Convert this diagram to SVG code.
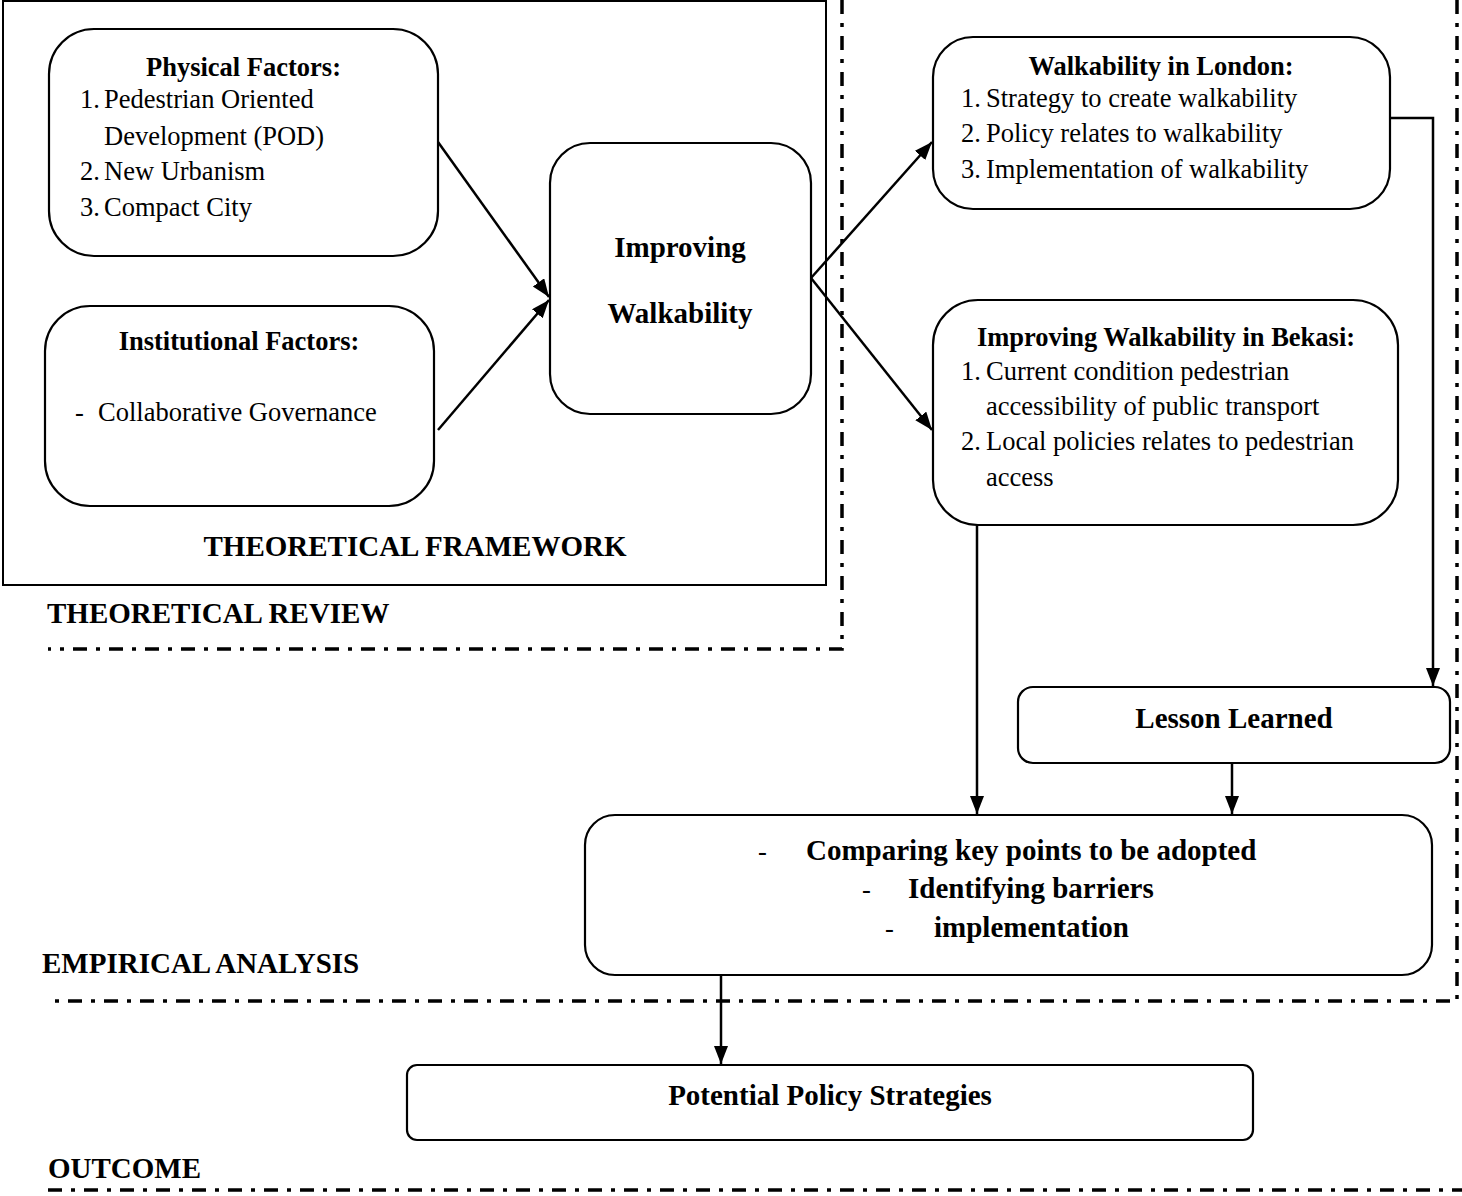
<svg xmlns="http://www.w3.org/2000/svg" width="1462" height="1196" viewBox="0 0 1462 1196">
<style>
  .box{fill:#fff;stroke:#000;stroke-width:2.2}
  .frame{fill:none;stroke:#000;stroke-width:2}
  .dd{fill:none;stroke:#000;stroke-width:3.5;stroke-dasharray:14 9 4 9}
  .conn{fill:none;stroke:#000;stroke-width:2.5}
  .t{font-family:"Liberation Serif","Times New Roman",serif;font-size:26.5px;fill:#000}
  .b{font-weight:bold}
  .h{font-family:"Liberation Serif","Times New Roman",serif;font-size:29px;font-weight:bold;fill:#000}
  .c{text-anchor:middle}
</style>
<defs>
  <marker id="arr" markerUnits="userSpaceOnUse" markerWidth="20" markerHeight="16" refX="18" refY="7" orient="auto">
    <path d="M0,0 L18,7 L0,14 z" fill="#000"/>
  </marker>
</defs>
<rect width="1462" height="1196" fill="#fff"/>

<g id="section-boundaries">
  <rect class="frame" x="3" y="1" width="823" height="584"/>
  <path class="dd" d="M842,0 V649 H48"/>
  <path class="dd" d="M1457,0 V1001 H48"/>
  <path class="dd" d="M48,1190 H1462"/>
</g>

<g id="section-labels">
  <text class="h c" x="415" y="556">THEORETICAL FRAMEWORK</text>
  <text class="h" x="47" y="623">THEORETICAL REVIEW</text>
  <text class="h" x="42" y="973">EMPIRICAL ANALYSIS</text>
  <text class="h" x="48" y="1178">OUTCOME</text>
</g>

<g id="connectors">
  <line class="conn" x1="438" y1="142" x2="549" y2="297" marker-end="url(#arr)"/>
  <line class="conn" x1="438" y1="430" x2="549" y2="300" marker-end="url(#arr)"/>
  <line class="conn" x1="811" y1="278" x2="932" y2="142" marker-end="url(#arr)"/>
  <line class="conn" x1="811" y1="278" x2="932" y2="430" marker-end="url(#arr)"/>
  <path class="conn" d="M1390,118 H1433 V686" marker-end="url(#arr)"/>
  <line class="conn" x1="977" y1="525" x2="977" y2="814" marker-end="url(#arr)"/>
  <line class="conn" x1="1232" y1="763" x2="1232" y2="814" marker-end="url(#arr)"/>
  <line class="conn" x1="721" y1="975" x2="721" y2="1064" marker-end="url(#arr)"/>
</g>

<g id="physical-factors">
  <rect class="box" x="49" y="29" width="389" height="227" rx="45" ry="45"/>
  <text class="t b c" x="243.5" y="76">Physical Factors:</text>
  <text class="t" x="80" y="108">1.</text>
  <text class="t" x="104" y="108">Pedestrian Oriented</text>
  <text class="t" x="104" y="145">Development (POD)</text>
  <text class="t" x="80" y="180">2.</text>
  <text class="t" x="104" y="180">New Urbanism</text>
  <text class="t" x="80" y="216">3.</text>
  <text class="t" x="104" y="216">Compact City</text>
</g>

<g id="institutional-factors">
  <rect class="box" x="45" y="306" width="389" height="200" rx="45" ry="45"/>
  <text class="t b c" x="239" y="350">Institutional Factors:</text>
  <text class="t" x="75" y="421">-</text>
  <text class="t" x="98" y="421">Collaborative Governance</text>
</g>

<g id="improving-walkability">
  <rect class="box" x="550" y="143" width="261" height="271" rx="40" ry="40"/>
  <text class="h c" x="680" y="257">Improving</text>
  <text class="h c" x="680" y="323">Walkability</text>
</g>

<g id="walkability-london">
  <rect class="box" x="933" y="37" width="457" height="172" rx="40" ry="40"/>
  <text class="t b c" x="1161" y="75">Walkability in London:</text>
  <text class="t" x="961" y="107">1.</text>
  <text class="t" x="986" y="107">Strategy to create walkability</text>
  <text class="t" x="961" y="142">2.</text>
  <text class="t" x="986" y="142">Policy relates to walkability</text>
  <text class="t" x="961" y="178">3.</text>
  <text class="t" x="986" y="178">Implementation of walkability</text>
</g>

<g id="walkability-bekasi">
  <rect class="box" x="933" y="300" width="465" height="225" rx="45" ry="45"/>
  <text class="t b c" x="1166" y="346">Improving Walkability in Bekasi:</text>
  <text class="t" x="961" y="380">1.</text>
  <text class="t" x="986" y="380">Current condition pedestrian</text>
  <text class="t" x="986" y="415">accessibility of public transport</text>
  <text class="t" x="961" y="450">2.</text>
  <text class="t" x="986" y="450">Local policies relates to pedestrian</text>
  <text class="t" x="986" y="486">access</text>
</g>

<g id="lesson-learned">
  <rect class="box" x="1018" y="687" width="432" height="76" rx="15" ry="15"/>
  <text class="h c" x="1234" y="728">Lesson Learned</text>
</g>

<g id="comparing">
  <rect class="box" x="585" y="815" width="847" height="160" rx="30" ry="30"/>
  <text class="t" x="758" y="860">-</text>
  <text class="h" x="806" y="860">Comparing key points to be adopted</text>
  <text class="t" x="862" y="898">-</text>
  <text class="h" x="908" y="898">Identifying barriers</text>
  <text class="t" x="885" y="937">-</text>
  <text class="h" x="934" y="937">implementation</text>
</g>

<g id="potential-policy">
  <rect class="box" x="407" y="1065" width="846" height="75" rx="10" ry="10"/>
  <text class="h c" x="830" y="1105">Potential Policy Strategies</text>
</g>
</svg>
